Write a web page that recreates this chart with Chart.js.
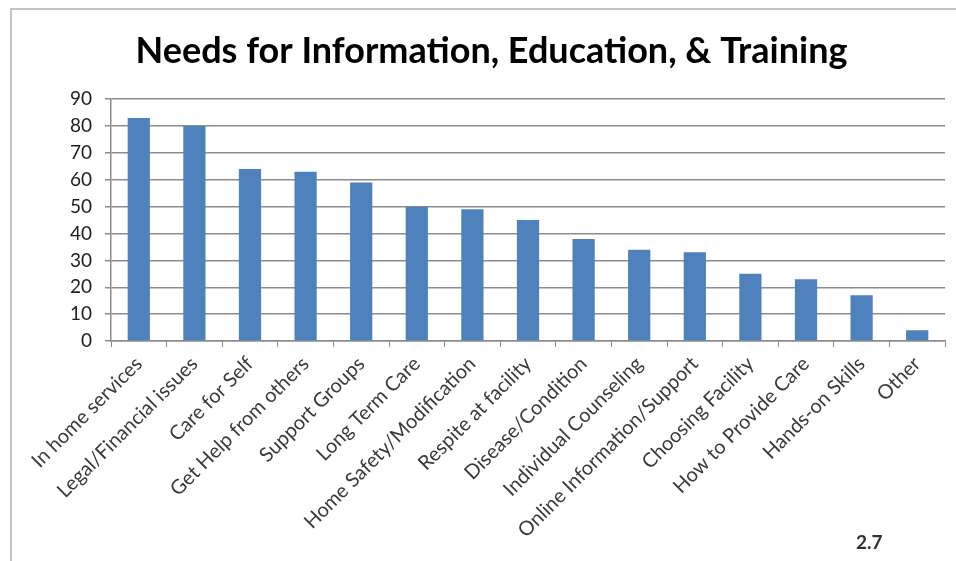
<!DOCTYPE html>
<html>
<head>
<meta charset="utf-8">
<script src="https://cdn.jsdelivr.net/npm/chart.js@4/dist/chart.umd.min.js"></script>
<style>
  html, body { margin: 0; padding: 0; background: #fff; }
  #wrap { position: relative; width: 956px; height: 561px; overflow: hidden; }
  #frame {
    position: absolute; left: 10px; top: 8px; right: -10px; bottom: -10px;
    border-left: 2px solid #c4c4c4; border-top: 2px solid #c4c4c4;
  }
  #page-no {
    position: absolute; left: 856px; top: 530px;
    font: bold 19px Lato, "Open Sans", sans-serif; color: #333;
  }
  canvas { position: absolute; left: 0; top: 0; }
</style>
</head>
<body>
<div id="wrap">
  <div id="frame"></div>
  <canvas id="needs" width="956" height="561"></canvas>
  <div id="page-no">2.7</div>
</div>
<script>
// survey responses, sorted high to low
const categories = [
  "In home services",
  "Legal/Financial issues",
  "Care for Self",
  "Get Help from others",
  "Support Groups",
  "Long Term Care",
  "Home Safety/Modification",
  "Respite at facility",
  "Disease/Condition",
  "Individual Counseling",
  "Online Information/Support",
  "Choosing Facility",
  "How to Provide Care",
  "Hands-on Skills",
  "Other",
];
const responses = [83, 80, 64, 63, 59, 50, 49, 45, 38, 34, 33, 25, 23, 17, 4];
const yTicks = [0, 10, 20, 30, 40, 50, 60, 70, 80, 90];

const FONT = "Lato, 'Open Sans', sans-serif";
const GRID = "#8c8c8c";

new Chart(document.getElementById("needs"), {
  type: "bar",
  data: {
    labels: categories,
    datasets: [
      {
        data: responses,
        backgroundColor: "#4f81bd",
        borderWidth: 0,
        categoryPercentage: 1,
        barPercentage: 0.4,
      },
    ],
  },
  options: {
    responsive: false,
    animation: false,
    // extra left padding keeps the title centred where it sits on the slide
    layout: { padding: { left: 38, right: 11, top: 0, bottom: 0 } },
    plugins: {
      legend: { display: false },
      tooltip: { enabled: false },
      title: {
        display: true,
        text: "Needs for Information, Education, & Training",
        color: "#000",
        font: { family: FONT, size: 36, weight: "bold" },
        padding: { top: 30, bottom: 26 },
      },
    },
    scales: {
      x: {
        grid: { drawOnChartArea: false, drawTicks: true, tickLength: 6, color: GRID, offset: true },
        border: { color: GRID, width: 1.5 },
        ticks: {
          color: "#3a3a3a",
          font: { family: FONT, size: 20 },
          minRotation: 45,
          maxRotation: 45,
          autoSkip: false,
          padding: 5,
        },
        afterFit: (s) => { s.height = 220; },
      },
      y: {
        min: 0,
        max: 90,
        afterBuildTicks: (s) => { s.ticks = yTicks.map((v) => ({ value: v })); },
        grid: { color: GRID, lineWidth: 1.5, tickLength: 6 },
        border: { color: GRID, width: 1.5 },
        ticks: {
          color: "#1e1e1e",
          font: { family: FONT, size: 19 },
          autoSkip: false,
          padding: 13,
        },
        afterFit: (s) => { s.width = 73; },
      },
    },
  },
});
</script>
</body>
</html>
